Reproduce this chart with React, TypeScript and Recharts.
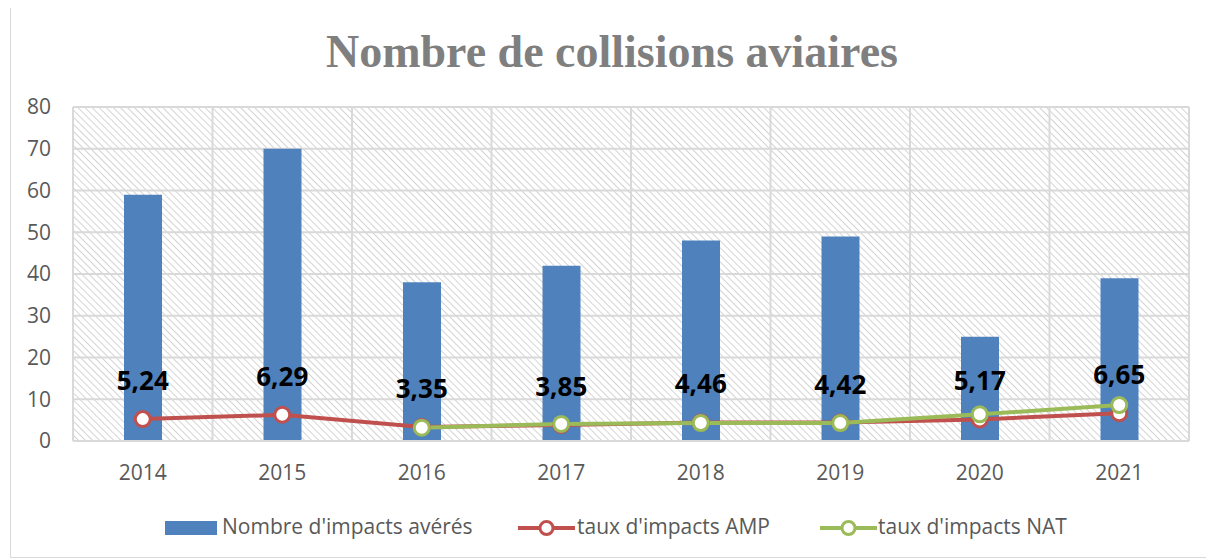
import {
  Bar,
  CartesianGrid,
  ComposedChart,
  LabelList,
  Line,
  XAxis,
  YAxis,
} from "recharts";

const years = ["2014", "2015", "2016", "2017", "2018", "2019", "2020", "2021"];
const impacts = [59, 70, 38, 42, 48, 49, 25, 39];
const tauxAmp = [5.24, 6.29, 3.35, 3.85, 4.46, 4.42, 5.17, 6.65];
const tauxNat = [null, null, 3.2, 4.1, 4.3, 4.3, 6.4, 8.6];
const yTicks = [0, 10, 20, 30, 40, 50, 60, 70, 80];

const data = years.map((year, i) => ({
  year,
  impacts: impacts[i],
  amp: tauxAmp[i],
  nat: tauxNat[i],
}));

const BLUE = "#4F81BD";
const RED = "#C0504D";
const GREEN = "#9BBB59";
const GRID = "#d9d9d9";
const TEXT = "#595959";
const FONT = "'Open Sans', sans-serif";

const AmpLabel = (props: any) => {
  const { x, y, value } = props;
  return (
    <text
      x={x}
      y={y - 39}
      textAnchor="middle"
      dominantBaseline="central"
      fontFamily={FONT}
      fontWeight="bold"
      fontSize={26}
      fill="#000"
    >
      {String(value).replace(".", ",")}
    </text>
  );
};

function LineIcon({ color }: { color: string }) {
  return (
    <svg width={57} height={18} style={{ display: "block" }}>
      <line x1={0} y1={9} x2={57} y2={9} stroke={color} strokeWidth={4} />
      <circle cx={28.5} cy={9} r={6.5} fill="#fff" stroke={color} strokeWidth={3} />
    </svg>
  );
}

export default function App() {
  return (
    <div
      style={{
        position: "relative",
        left: 2,
        top: -3,
        width: 1204,
        height: 553,
        boxSizing: "border-box",
        border: "1px solid #d9d9d9",
        background: "#fff",
      }}
    >
      <div
        style={{
          position: "absolute",
          top: 18,
          left: 0,
          width: "100%",
          textAlign: "center",
          fontFamily: "'Liberation Serif', serif",
          fontWeight: "bold",
          fontSize: 46,
          color: "#7f7f7f",
          lineHeight: "56px",
        }}
      >
        Nombre de collisions aviaires
      </div>
      <div style={{ position: "absolute", top: -1, left: -1 }}>
        <ComposedChart
          width={1204}
          height={553}
          data={data}
          margin={{ top: 102, right: 25, bottom: 87, left: 13 }}
        >
          <defs>
            <pattern
              id="hatch"
              width={5}
              height={5}
              patternUnits="userSpaceOnUse"
              patternTransform="rotate(-45)"
            >
              <rect width={5} height={5} fill="#fff" />
              <line x1={0} y1={0} x2={0} y2={5} stroke="#d4d4d4" strokeWidth={2} />
            </pattern>
          </defs>
          <CartesianGrid
            fill="url(#hatch)"
            fillOpacity={1}
            stroke={GRID}
            strokeWidth={2}
            verticalCoordinatesGenerator={({ offset }: any) =>
              years
                .concat([""])
                .map((_, i) => offset.left + (i * offset.width) / years.length)
            }
          />
          <XAxis
            dataKey="year"
            axisLine={{ stroke: GRID, strokeWidth: 2 }}
            tickLine={false}
            tickMargin={18}
            tick={{ fill: TEXT, fontSize: 21, fontFamily: FONT }}
          />
          <YAxis
            width={50}
            domain={[0, 80]}
            ticks={yTicks}
            axisLine={false}
            tickLine={false}
            tickMargin={16}
            tick={{ fill: TEXT, fontSize: 21, fontFamily: FONT }}
          />
          <Bar dataKey="impacts" fill={BLUE} barSize={38} isAnimationActive={false} />
          <Line
            dataKey="amp"
            stroke={RED}
            strokeWidth={4}
            dot={{ r: 7.5, fill: "#fff", stroke: RED, strokeWidth: 3 }}
            activeDot={false}
            isAnimationActive={false}
          />
          <Line
            dataKey="nat"
            stroke={GREEN}
            strokeWidth={4}
            dot={{ r: 7.5, fill: "#fff", stroke: GREEN, strokeWidth: 3 }}
            activeDot={false}
            isAnimationActive={false}
          />
          <Line
            dataKey="amp"
            stroke="none"
            dot={false}
            activeDot={false}
            legendType="none"
            isAnimationActive={false}
          >
            <LabelList dataKey="amp" content={AmpLabel} />
          </Line>
        </ComposedChart>
      </div>
      <div
        style={{
          position: "absolute",
          top: 506,
          left: 0,
          width: "100%",
          height: 32,
          fontFamily: FONT,
          fontSize: 21,
          color: TEXT,
        }}
      >
        <div style={{ position: "absolute", left: 154, top: 9, width: 52, height: 14, background: BLUE }} />
        <div style={{ position: "absolute", left: 211, top: 0, whiteSpace: "nowrap" }}>
          Nombre d'impacts avérés
        </div>
        <div style={{ position: "absolute", left: 507, top: 7 }}>
          <LineIcon color={RED} />
        </div>
        <div style={{ position: "absolute", left: 566, top: 0, whiteSpace: "nowrap" }}>
          taux d'impacts AMP
        </div>
        <div style={{ position: "absolute", left: 809, top: 7 }}>
          <LineIcon color={GREEN} />
        </div>
        <div style={{ position: "absolute", left: 867, top: 0, whiteSpace: "nowrap" }}>
          taux d'impacts NAT
        </div>
      </div>
    </div>
  );
}
